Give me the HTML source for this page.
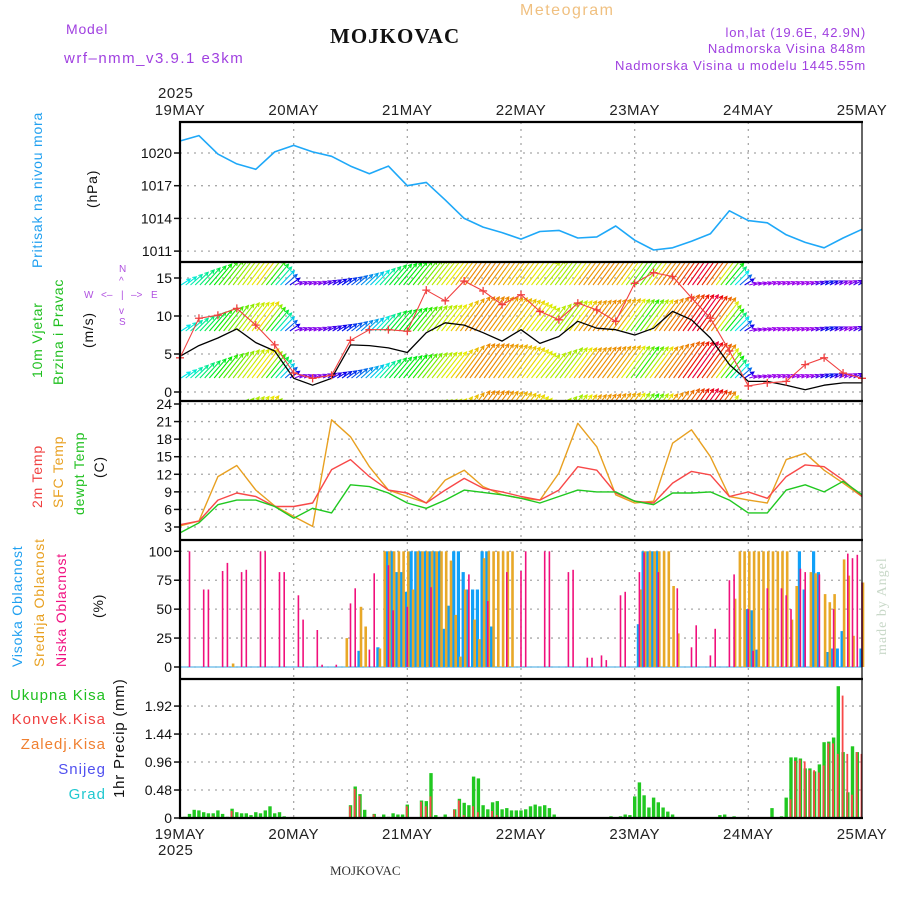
<!DOCTYPE html>
<html><head><meta charset="utf-8">
<style>
html,body{margin:0;padding:0;background:#fff;}
svg{display:block;font-family:"Liberation Sans",sans-serif;}
.tk{font-size:14px;fill:#111;text-anchor:end;}
.dl{font-size:15px;fill:#222;text-anchor:middle;letter-spacing:0.5px;}
.lab{font-size:14px;letter-spacing:0.8px;}
</style></head>
<body>
<svg id="chart" width="900" height="900" viewBox="0 0 900 900" xmlns="http://www.w3.org/2000/svg">
<defs>
<clipPath id="clipW"><rect x="181" y="263" width="681" height="137"/></clipPath>
</defs>
<text x="66" y="34" class="lab" fill="#a040e0">Model</text>
<text x="64" y="63" class="lab" fill="#a040e0" style="font-size:15px;letter-spacing:1.5px">wrf–nmm_v3.9.1  e3km</text>
<text x="330" y="43" style="font-family:'Liberation Serif',serif;font-weight:bold;font-size:21px;letter-spacing:1px" fill="#111">MOJKOVAC</text>
<text x="520" y="15" class="lab" fill="#f0c080" style="font-size:16px;letter-spacing:1.5px">Meteogram</text>
<text x="866" y="37" class="lab" fill="#a040e0" text-anchor="end" style="font-size:13px">lon,lat (19.6E, 42.9N)</text>
<text x="866" y="53" class="lab" fill="#a040e0" text-anchor="end" style="font-size:13px">Nadmorska Visina 848m</text>
<text x="866" y="70" class="lab" fill="#a040e0" text-anchor="end" style="font-size:13px">Nadmorska Visina u modelu 1445.55m</text>
<text x="158" y="98" class="dl" style="text-anchor:start">2025</text>
<text x="158" y="855" class="dl" style="text-anchor:start">2025</text>
<text x="330" y="875" style="font-family:'Liberation Serif',serif;font-size:13px" fill="#333">MOJKOVAC</text>
<text transform="translate(886,655) rotate(-90)" style="font-family:'Liberation Serif',serif;font-size:14px;letter-spacing:1px" fill="#c8d8c8">made by Angel</text>
<text transform="translate(42,268) rotate(-90)" class="lab" fill="#20a0f0">Pritisak na nivou mora</text>
<text transform="translate(97,208) rotate(-90)" class="lab" fill="#111">(hPa)</text>
<text transform="translate(42,378) rotate(-90)" class="lab" fill="#20c020">10m Vjetar</text>
<text transform="translate(63,385) rotate(-90)" class="lab" fill="#20c020">Brzina i Pravac</text>
<text transform="translate(93,348) rotate(-90)" class="lab" fill="#111">(m/s)</text>
<g fill="#b050e0" style="font-size:10px">
<text x="84" y="298">W</text><text x="101" y="298">&lt;–</text><text x="121" y="298">|</text><text x="131" y="298">–&gt;</text><text x="151" y="298">E</text>
<text x="119" y="272">N</text><text x="119" y="284">^</text><text x="119" y="314">v</text><text x="119" y="325">S</text>
</g>
<text transform="translate(42,508) rotate(-90)" class="lab" fill="#f04040">2m Temp</text>
<text transform="translate(63,508) rotate(-90)" class="lab" fill="#e8a020">SFC Temp</text>
<text transform="translate(84,515) rotate(-90)" class="lab" fill="#20c020">dewpt Temp</text>
<text transform="translate(104,478) rotate(-90)" class="lab" fill="#111">(C)</text>
<text transform="translate(22,667) rotate(-90)" class="lab" fill="#20a0f0">Visoka Oblacnost</text>
<text transform="translate(44,667) rotate(-90)" class="lab" fill="#e8a020">Srednja Oblacnost</text>
<text transform="translate(66,667) rotate(-90)" class="lab" fill="#f01080">Niska Oblacnost</text>
<text transform="translate(103,618) rotate(-90)" class="lab" fill="#111">(%)</text>
<g style="font-size:15px;letter-spacing:1px" text-anchor="end">
<text x="106" y="700" fill="#20c020">Ukupna  Kisa</text>
<text x="106" y="724" fill="#f04040">Konvek.Kisa</text>
<text x="106" y="749" fill="#f08030">Zaledj.Kisa</text>
<text x="106" y="774" fill="#5050f0">Snijeg</text>
<text x="106" y="799" fill="#20c8d0">Grad</text>
</g>
<text transform="translate(124,798) rotate(-90)" class="lab" fill="#111" style="font-size:15px">1hr Precip (mm)</text>
<g id="grid"></g>
<g id="marks"></g>
<g id="frame"></g>
</svg>
<script>
const presVals=[1021.1,1021.6,1019.9,1019.0,1018.5,1020.1,1020.7,1020.1,1019.7,1018.8,1018.1,1018.8,1017.0,1017.3,1015.7,1014.0,1013.2,1012.7,1012.1,1012.8,1012.9,1012.2,1012.3,1013.3,1012.0,1011.1,1011.3,1011.9,1012.6,1014.7,1013.8,1013.6,1012.5,1011.8,1011.3,1012.2,1013.0];
const tSfc=[3.2,4.0,11.6,13.5,9.3,6.6,4.8,3.1,21.3,18.4,13.3,9.3,8.2,7.1,11.0,12.7,9.9,8.5,7.9,7.6,12.2,20.7,16.7,8.5,7.1,7.4,17.3,19.6,15.0,8.2,7.6,7.1,14.5,15.6,12.7,10.5,8.2];
const t2m=[3.4,4.0,7.6,8.8,8.2,6.5,6.5,7.1,12.8,14.5,11.6,9.3,8.8,7.1,9.3,11.3,9.6,9.0,8.2,7.6,9.3,13.3,12.7,8.8,7.4,7.1,10.5,12.5,11.9,8.2,9.0,7.9,11.6,13.6,13.3,11.0,8.2];
const tDew=[2.0,3.7,6.8,7.6,7.6,6.5,4.5,6.2,5.4,10.2,9.9,8.8,7.1,6.2,7.6,9.3,8.9,8.5,7.9,7.1,8.2,9.3,9.0,9.0,7.4,6.8,8.8,8.8,9.0,7.6,5.4,5.4,9.3,10.2,9.0,10.8,8.5];
const windSpd=[4.7,6.1,7.1,8.3,6.5,5.4,1.8,0.9,1.8,6.2,6.1,5.8,5.2,7.8,9.1,8.8,7.8,6.7,8.2,6.4,7.3,9.3,8.4,8.2,7.5,8.4,10.6,9.5,7.1,3.6,1.4,1.4,0.9,0.3,0.9,1.2,1.2];
const windGust=[4.5,9.7,10.1,11.0,8.8,6.2,2.5,1.8,2.2,6.8,8.2,8.2,8.0,13.4,12.0,14.6,13.3,11.5,12.8,10.6,9.5,11.7,10.8,9.3,14.3,15.7,15.2,12.4,9.7,5.4,0.8,1.2,1.4,3.6,4.5,2.5,1.8];
const windLen=[6,15,23,28,29,18,3,3,5,8,13,20,23,25,26,34,34,33,30,23,30,30,31,32,31,31,36,36,33,18,2,3,3,3,4,4,5];
const windHue=[180,150,110,75,55,160,270,275,250,220,190,130,120,80,60,35,35,45,55,70,80,40,35,45,110,40,25,-15,35,150,275,280,280,280,235,280,240];
const precipTot=[0.02,0.07,0.14,0.13,0.1,0.08,0.08,0.13,0.07,0.02,0.16,0.1,0.08,0.08,0.05,0.1,0.08,0.13,0.2,0.08,0.1,0.03,0,0,
0,0,0,0,0,0,0,0,0,0,0,0.22,0.54,0.41,0.14,0,0.07,0,0.06,0.02,0.08,0.06,0.06,0.23,
0,0,0.3,0.29,0.77,0.05,0,0.06,0,0.15,0.33,0.26,0.22,0.71,0.68,0.22,0.15,0.27,0.29,0.15,0.17,0.13,0.13,0.13,
0.15,0.2,0.23,0.2,0.22,0.17,0.06,0,0,0,0,0,0,0,0,0,0,0,0.03,0,0.03,0.06,0.05,
0.37,0.61,0.39,0.18,0.35,0.27,0.18,0.11,0.06,0,0,0,0,0,0,0,0,0,0.05,0.06,0,0.03,0,0,
0,0,0,0,0,0.17,0,0.03,0.35,1.04,1.04,1.02,0.85,0.85,0.8,0.92,1.3,1.31,1.38,2.26,1.13,0.44,1.23,1.13];
const precipConv=[0,0,0,0,0,0,0.03,0,0,0,0.12,0,0,0,0,0,0,0,0,0,0,0,0,0,
0,0,0,0,0,0,0,0,0,0,0,0.2,0.5,0.38,0,0,0.06,0,0,0,0,0,0,0.2,
0,0,0.28,0.2,0.37,0,0,0,0,0.14,0.3,0.05,0,0.2,0.1,0,0,0.12,0.05,0,0,0,0,0,
0,0,0,0,0,0,0,0,0,0,0,0,0,0,0,0,0,0,0,0,0,0,0,0,
0,0,0,0,0,0,0,0,0,0,0,0,0,0,0,0,0,0,0,0,0,0,0,0,
0,0,0,0,0,0,0,0,0.32,0.98,1.0,0.97,0.82,0.82,0.78,0.9,1.28,1.28,1.1,2.1,1.1,0.4,1.13,1.1];
const cloudLow=[0,100,0,0,67,67,0,0,83,90,0,0,82,84,0,0,100,100,0,0,82,82,0,0,
62,41,0,0,32,2,0,0,2,0,0,55,68,0,0,15,81,0,0,88,49,0,0,52,
0,0,0,0,69,0,0,0,0,0,0,0,80,0,0,0,57,0,0,0,82,0,0,83,
100,0,0,0,100,100,0,0,0,82,84,0,0,8,8,0,10,6,0,0,62,65,0,0,
82,99,0,0,82,0,0,0,68,0,0,17,36,0,0,10,33,0,0,75,80,0,0,50,
14,0,0,68,0,0,68,62,50,0,85,82,0,0,80,0,0,50,0,0,98,94,97,73];
const cloudMid=[0,0,0,0,0,0,0,0,0,0,3,0,0,0,0,0,0,0,0,0,0,0,0,0,
0,0,0,0,0,0,0,0,0,0,25,0,0,52,35,0,0,16,100,100,100,100,100,100,
67,100,100,100,100,100,100,100,92,45,9,67,0,41,24,94,100,100,100,100,100,100,0,0,
0,0,0,0,0,0,0,0,0,0,0,0,0,0,0,0,0,0,0,0,0,0,0,0,
67,100,100,100,100,100,100,70,29,0,0,0,0,0,0,0,0,0,0,0,59,100,100,100,
100,100,100,100,100,100,100,100,41,70,0,0,82,81,0,63,56,63,0,93,79,27,0,73];
const cloudHigh=[0,0,0,0,0,0,0,0,0,0,0,0,0,0,0,0,0,0,0,0,0,0,0,0,
0,0,0,0,0,0,0,0,0,0,0,0,0,14,0,0,0,17,0,100,100,82,82,65,
100,100,100,100,100,100,100,33,53,100,100,82,67,67,67,100,100,35,0,0,0,0,0,0,
0,0,0,0,0,0,0,0,0,0,0,0,0,0,0,0,0,0,0,0,0,0,0,0,
37,100,100,100,100,0,0,0,0,0,0,0,0,0,0,0,0,0,0,0,0,0,0,50,
49,15,0,0,0,0,0,0,0,0,100,67,0,100,82,0,13,16,16,31,0,0,0,16];
const dayLabels=["19MAY","20MAY","21MAY","22MAY","23MAY","24MAY","25MAY"];
const presTicks=[1011,1014,1017,1020];
const windTicks=[0,5,10,15];
const tempTicks=[3,6,9,12,15,18,21,24];
const cloudTicks=[0,25,50,75,100];
const precipTicks=[0,0.48,0.96,1.44,1.92];

const X0=180,X1=862,HRS=144;
const xH=h=>X0+h*(X1-X0)/HRS;
const yP=v=>153-(v-1020)*10.9;
const yW=v=>392-v*7.6;
const yT=v=>404+(24-v)*5.857;
const yC=v=>667-v*1.157;
const yR=v=>818-v*58.3;
const NS="http://www.w3.org/2000/svg";
function mk(tag,attrs,parent){const e=document.createElementNS(NS,tag);for(const k in attrs)e.setAttribute(k,attrs[k]);parent.appendChild(e);return e;}
const grid=document.getElementById('grid'),marks=document.getElementById('marks'),frame=document.getElementById('frame');
const gridStyle={stroke:"#a8a8a8","stroke-width":1.3,"stroke-dasharray":"2,5"};

function hAxis(ticks,yf,fmt,name){
  ticks.forEach(t=>{
    const y=yf(t);
    const l=mk('line',Object.assign({x1:X0,x2:X1,y1:y,y2:y},gridStyle),grid);
    
    
    const tk=mk('line',{x1:X0-6,x2:X0,y1:y,y2:y,stroke:"#111","stroke-width":1.5},frame);
    
    
    const tx=mk('text',{x:X0-8,y:y+5,class:'tk'},frame);
    tx.textContent=fmt(t);
    
    
  });
}
hAxis(presTicks,yP,t=>String(t),'pressure');
hAxis(windTicks,yW,t=>String(t),'wind');
hAxis(tempTicks,yT,t=>String(t),'temp');
hAxis(cloudTicks,yC,t=>String(t),'cloud');
hAxis(precipTicks,yR,t=>t===0?"0":t.toFixed(2),'precip');
dayLabels.forEach((d,i)=>{
  const x=xH(i*24);
  if(i>0&&i<6){
    const l=mk('line',Object.assign({x1:x,x2:x,y1:122,y2:818},gridStyle),grid);
    
    
  }
  const t1=mk('text',{x:x,y:115,class:'dl'},frame);t1.textContent=d;
  
  
  const t2=mk('text',{x:x,y:839,class:'dl'},frame);t2.textContent=d;
  
  
});
[122,262,401,540,679,818].forEach(y=>{
  const l=mk('line',{x1:X0-1,x2:X1+1,y1:y,y2:y,stroke:"#000","stroke-width":2.2},frame);
  
  
});
const la=mk('line',{x1:X0,x2:X0,y1:121,y2:819,stroke:"#000","stroke-width":2.2},frame);


const ra=mk('line',{x1:X1,x2:X1,y1:121,y2:819,stroke:"#000","stroke-width":1.2},frame);



function series(vals,yf,color,name,width){
  const pts=vals.map((v,i)=>xH(i*4).toFixed(1)+","+yf(v).toFixed(1)).join(" ");
  const p=mk('polyline',{points:pts,fill:"none",stroke:color,"stroke-width":width||1.4,"stroke-linejoin":"round"},marks);
  
  
  return p;
}
series(presVals,yP,"#1ea8f8","pressure-line",1.6);
series(tSfc,yT,"#e8a020","sfc-temp-line");
series(t2m,yT,"#f84848","2m-temp-line");
series(tDew,yT,"#20c820","dewpt-temp-line");

function interp(arr,h){const f=h/4,i=Math.min(Math.floor(f),arr.length-2),r=f-i;return arr[i]*(1-r)+arr[i+1]*r;}
const wg=mk('g',{"clip-path":"url(#clipW)"},marks);


[285,331,378,425].forEach(base=>{
  for(let h=0;h<HRS;h++){
    const len=interp(windLen,h),hue=((interp(windHue,h)%360)+360)%360;
    const x=xH(h)+1,dx=6+len*0.55,tx=x+dx,ty=base-len;
    const c=`hsl(${hue.toFixed(0)},100%,46%)`;
    const ang=Math.atan2(-len,dx);
    const a1=ang+Math.PI*0.85,a2=ang-Math.PI*0.85;
    const d=`M${x.toFixed(1)},${base} L${tx.toFixed(1)},${ty.toFixed(1)} M${(tx+4*Math.cos(a1)).toFixed(1)},${(ty+4*Math.sin(a1)).toFixed(1)} L${tx.toFixed(1)},${ty.toFixed(1)} L${(tx+4*Math.cos(a2)).toFixed(1)},${(ty+4*Math.sin(a2)).toFixed(1)}`;
    const p=mk('path',{d:d,stroke:c,"stroke-width":1.1,fill:"none"},wg);
    
    
  }
});
series(windSpd,yW,"#000","wind-speed-line",1.3);
series(windGust,yW,"#f04040","wind-gust-line",1.1);
windGust.forEach((v,i)=>{
  const x=xH(i*4),y=yW(v);
  const p=mk('path',{d:`M${x-4},${y} H${x+4} M${x},${y-4} V${y+4}`,stroke:"#f04040","stroke-width":1.3},marks);
  
  
});

const cb=mk('line',{x1:X0,x2:X1,y1:yC(0),y2:yC(0),stroke:"#60b8e8","stroke-width":1.2},marks);


function bars(arr,yf,color,w,off,name){
  arr.forEach((v,i)=>{
    if(v<=0)return;
    const x=xH(i+1)+off;
    const r=mk('rect',{x:(x-w/2).toFixed(1),y:yf(v).toFixed(1),width:w,height:(yf(0)-yf(v)).toFixed(1),fill:color},marks);
    
    
  });
}
bars(cloudHigh,yC,"#10a0f8",3.2,-1,"high-cloud-bar");
bars(cloudMid,yC,"#e8a828",2.6,1,"mid-cloud-bar");
bars(cloudLow,yC,"#f0107c",1.6,0,"low-cloud-bar");
bars(precipTot,yR,"#20c820",3.4,0,"total-precip-bar");
bars(precipConv,yR,"#f84848",1.8,-0.5,"convective-precip-bar");
</script>
</body></html>
